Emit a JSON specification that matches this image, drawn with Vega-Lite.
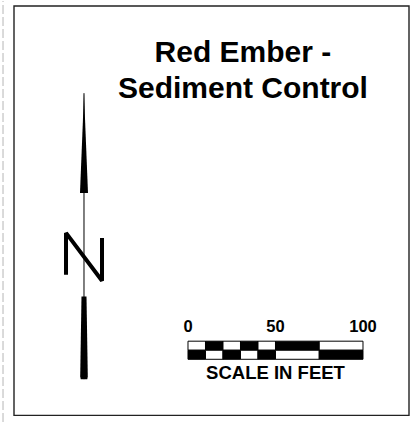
{
  "$schema": "https://vega.github.io/schema/vega-lite/v6.json",
  "width": 410,
  "height": 423,
  "padding": 0,
  "autosize": {"type": "fit", "contains": "padding"},
  "background": "white",
  "config": {"view": {"stroke": null}},
  "datasets": {
    "frame": [{"x1": -99.43, "x2": 126.29, "y1": -32.2, "y2": 202.86}],
    "margin": [{"x": -105.7, "y1": -36, "y2": 205.7}],
    "scalebar": [
      {"row": "top", "from": 0, "to": 10, "shade": "white"},
      {"row": "top", "from": 10, "to": 20, "shade": "black"},
      {"row": "top", "from": 20, "to": 30, "shade": "white"},
      {"row": "top", "from": 30, "to": 40, "shade": "black"},
      {"row": "top", "from": 40, "to": 50, "shade": "white"},
      {"row": "top", "from": 50, "to": 75, "shade": "black"},
      {"row": "top", "from": 75, "to": 100, "shade": "white"},
      {"row": "bottom", "from": 0, "to": 10, "shade": "black"},
      {"row": "bottom", "from": 10, "to": 20, "shade": "white"},
      {"row": "bottom", "from": 20, "to": 30, "shade": "black"},
      {"row": "bottom", "from": 30, "to": 40, "shade": "white"},
      {"row": "bottom", "from": 40, "to": 50, "shade": "black"},
      {"row": "bottom", "from": 50, "to": 75, "shade": "white"},
      {"row": "bottom", "from": 75, "to": 100, "shade": "black"}
    ],
    "rows": [
      {"row": "top", "y1": 5.2, "y2": 10.4},
      {"row": "bottom", "y1": 0, "y2": 5.2}
    ],
    "ticklabels": [
      {"feet": 0, "label": "0"},
      {"feet": 50, "label": "50"},
      {"feet": 100, "label": "100"}
    ],
    "title": [
      {"line": "Red Ember -", "x": 31.4, "y": 170.5},
      {"line": "Sediment Control", "x": 31.4, "y": 149.9}
    ],
    "arrowline": [{"x": -59.43, "y1": 152.8, "y2": -11.4}],
    "arrow": [
      {"part": "head", "y": 152.57, "xl": -59.43, "xr": -59.43},
      {"part": "head", "y": 95.43, "xl": -61.72, "xr": -57.14},
      {"part": "tail", "y": 36.0, "xl": -60.86, "xr": -58.0},
      {"part": "tail", "y": -9.7, "xl": -61.6, "xr": -57.26},
      {"part": "tail", "y": -11.43, "xl": -61.3, "xr": -57.56}
    ],
    "nletter": [
      {"k": 1, "x": -69.71, "y": 48.57},
      {"k": 2, "x": -69.71, "y": 72.57},
      {"k": 3, "x": -49.14, "y": 45.14},
      {"k": 4, "x": -49.14, "y": 69.71}
    ]
  },
  "layer": [
    {
      "data": {"name": "margin"},
      "mark": {"type": "rule", "color": "#b5b5b5", "strokeWidth": 1, "strokeDash": [9, 3]},
      "encoding": {
        "x": {"field": "x", "type": "quantitative", "scale": {"domain": [-107.43, 126.86], "nice": false, "zero": false}, "axis": null},
        "y": {"field": "y1", "type": "quantitative", "scale": {"domain": [-36, 205.71], "nice": false, "zero": false}, "axis": null},
        "y2": {"field": "y2"}
      }
    },
    {
      "data": {"name": "frame"},
      "mark": {"type": "rect", "filled": false, "stroke": "#222", "strokeWidth": 1.4},
      "encoding": {
        "x": {"field": "x1", "type": "quantitative", "scale": {"domain": [-107.43, 126.86], "nice": false, "zero": false}, "axis": null},
        "x2": {"field": "x2"},
        "y": {"field": "y1", "type": "quantitative", "scale": {"domain": [-36, 205.71], "nice": false, "zero": false}, "axis": null},
        "y2": {"field": "y2"}
      }
    },
    {
      "data": {"name": "scalebar"},
      "transform": [{"lookup": "row", "from": {"data": {"name": "rows"}, "key": "row", "fields": ["y1", "y2"]}}],
      "mark": {"type": "rect", "stroke": "#000", "strokeWidth": 1},
      "encoding": {
        "x": {"field": "from", "type": "quantitative", "scale": {"domain": [-107.43, 126.86], "nice": false, "zero": false}, "axis": null},
        "x2": {"field": "to"},
        "y": {"field": "y1", "type": "quantitative", "scale": {"domain": [-36, 205.71], "nice": false, "zero": false}, "axis": null},
        "y2": {"field": "y2"},
        "fill": {"field": "shade", "type": "nominal", "scale": {"domain": ["black", "white"], "range": ["#000000", "#ffffff"]}, "legend": null}
      }
    },
    {
      "data": {"name": "ticklabels"},
      "mark": {"type": "text", "font": "Liberation Sans", "fontWeight": "bold", "fontSize": 16.5, "align": "center", "baseline": "alphabetic", "color": "#000"},
      "encoding": {
        "x": {"field": "feet", "type": "quantitative", "scale": {"domain": [-107.43, 126.86], "nice": false, "zero": false}, "axis": null},
        "y": {"datum": 15.43, "type": "quantitative", "scale": {"domain": [-36, 205.71], "nice": false, "zero": false}, "axis": null},
        "text": {"field": "label"}
      }
    },
    {
      "data": {"values": [{"caption": "SCALE IN FEET", "x": 50, "y": -11.43}]},
      "mark": {"type": "text", "font": "Liberation Sans", "fontWeight": "bold", "fontSize": 18.5, "align": "center", "baseline": "alphabetic", "color": "#000"},
      "encoding": {
        "x": {"field": "x", "type": "quantitative", "scale": {"domain": [-107.43, 126.86], "nice": false, "zero": false}, "axis": null},
        "y": {"field": "y", "type": "quantitative", "scale": {"domain": [-36, 205.71], "nice": false, "zero": false}, "axis": null},
        "text": {"field": "caption"}
      }
    },
    {
      "data": {"name": "title"},
      "mark": {"type": "text", "font": "Liberation Sans", "fontWeight": "bold", "fontSize": 30, "align": "center", "baseline": "alphabetic", "color": "#000"},
      "encoding": {
        "x": {"field": "x", "type": "quantitative", "scale": {"domain": [-107.43, 126.86], "nice": false, "zero": false}, "axis": null},
        "y": {"field": "y", "type": "quantitative", "scale": {"domain": [-36, 205.71], "nice": false, "zero": false}, "axis": null},
        "text": {"field": "line"}
      }
    },
    {
      "data": {"name": "arrowline"},
      "mark": {"type": "rule", "color": "#000", "strokeWidth": 1},
      "encoding": {
        "x": {"field": "x", "type": "quantitative", "scale": {"domain": [-107.43, 126.86], "nice": false, "zero": false}, "axis": null},
        "y": {"field": "y1", "type": "quantitative", "scale": {"domain": [-36, 205.71], "nice": false, "zero": false}, "axis": null},
        "y2": {"field": "y2"}
      }
    },
    {
      "data": {"name": "arrow"},
      "mark": {"type": "area", "orient": "horizontal", "color": "#000"},
      "encoding": {
        "y": {"field": "y", "type": "quantitative", "scale": {"domain": [-36, 205.71], "nice": false, "zero": false}, "axis": null},
        "x": {"field": "xl", "type": "quantitative", "scale": {"domain": [-107.43, 126.86], "nice": false, "zero": false}, "axis": null},
        "x2": {"field": "xr"},
        "detail": {"field": "part", "type": "nominal"}
      }
    },
    {
      "data": {"name": "nletter"},
      "mark": {"type": "line", "color": "#000", "strokeWidth": 4, "strokeJoin": "miter", "strokeMiterLimit": 3, "strokeCap": "butt"},
      "encoding": {
        "x": {"field": "x", "type": "quantitative", "scale": {"domain": [-107.43, 126.86], "nice": false, "zero": false}, "axis": null},
        "y": {"field": "y", "type": "quantitative", "scale": {"domain": [-36, 205.71], "nice": false, "zero": false}, "axis": null},
        "order": {"field": "k", "type": "quantitative"}
      }
    }
  ]
}
